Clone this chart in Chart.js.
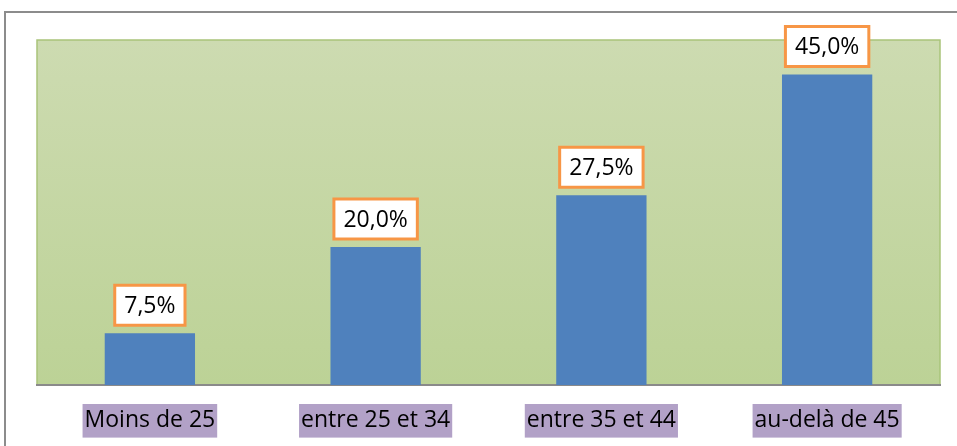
<!DOCTYPE html>
<html><head><meta charset="utf-8">
<script src="https://cdn.jsdelivr.net/npm/chart.js@4.4.1/dist/chart.umd.min.js"></script>
<style>
html,body{margin:0;padding:0;background:#fff;}
#wrap{position:absolute;left:0;top:0;width:957px;height:446px;}
#frame{position:absolute;left:4px;top:11px;width:960px;height:450px;border-left:2px solid #8c8c8c;border-top:2px solid #8c8c8c;box-sizing:border-box;}
canvas{position:absolute;left:0;top:0;}
</style></head>
<body>
<div id="wrap"><div id="frame"></div><canvas id="c" width="957" height="446"></canvas></div>
<script>
const categories = ["Moins de 25", "entre 25 et 34", "entre 35 et 44", "au-delà de 45"];
const values = [7.5, 20.0, 27.5, 45.0];
const valueLabels = ["7,5%", "20,0%", "27,5%", "45,0%"];

const FONT = "'Open Sans', 'Noto Sans', sans-serif";

const bgPlugin = {
  id: 'bgPlugin',
  beforeDraw(chart) {
    const {ctx, chartArea: a} = chart;
    const g = ctx.createLinearGradient(0, a.top, 0, a.bottom);
    g.addColorStop(0, '#cddbb1');
    g.addColorStop(1, '#bcd296');
    ctx.save();
    ctx.fillStyle = g;
    ctx.fillRect(a.left, a.top, a.right - a.left, a.bottom - a.top);
    ctx.strokeStyle = '#a9c47a';
    ctx.lineWidth = 1.5;
    ctx.strokeRect(a.left, a.top, a.right - a.left, a.bottom - a.top);
    ctx.restore();
  },
  afterDatasetsDraw(chart) {
    const {ctx} = chart;
    const meta = chart.getDatasetMeta(0);
    ctx.save();
    ctx.font = "23px " + FONT;
    ctx.textAlign = 'center';
    ctx.textBaseline = 'middle';
    meta.data.forEach((bar, i) => {
      const t = valueLabels[i];
      const w = ctx.measureText(t).width + 19;
      const h = 40;
      const bottom = bar.y - 8;
      const x = bar.x - w / 2, y = bottom - h;
      ctx.fillStyle = '#ffffff';
      ctx.fillRect(x, y, w, h);
      ctx.strokeStyle = '#f79646';
      ctx.lineWidth = 3;
      ctx.strokeRect(x, y, w, h);
      ctx.fillStyle = '#000';
      ctx.fillText(t, bar.x, y + h / 2 + 1);
    });
    ctx.restore();
  }
};

new Chart(document.getElementById('c'), {
  type: 'bar',
  data: {
    labels: categories,
    datasets: [{
      data: values,
      backgroundColor: '#4f81bd',
      borderWidth: 0,
      categoryPercentage: 1.0,
      barPercentage: 0.4
    }]
  },
  options: {
    responsive: false,
    animation: false,
    events: [],
    layout: {padding: {left: 37, right: 17, top: 40, bottom: 0}},
    plugins: {legend: {display: false}, tooltip: {enabled: false}},
    scales: {
      y: {display: false, min: 0, max: 50},
      x: {
        grid: {display: false, drawTicks: false},
        border: {display: true, color: '#8a8a8a', width: 2},
        afterFit(scale) { scale.height = 61; },
        ticks: {
          color: '#000',
          font: {family: FONT, size: 23},
          padding: 22,
          maxRotation: 0,
          autoSkip: false,
          showLabelBackdrop: true,
          backdropColor: '#b2a1c7',
          backdropPadding: {top: 3, bottom: 3, left: 2, right: 2}
        }
      }
    }
  },
  plugins: [bgPlugin]
});
</script>
</body></html>
